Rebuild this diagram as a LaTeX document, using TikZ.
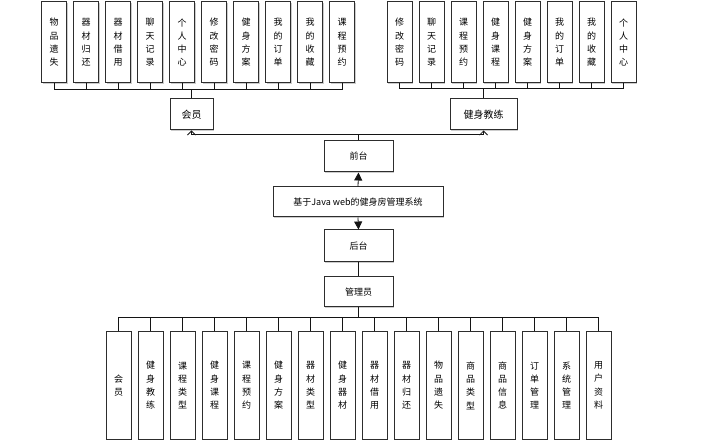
\documentclass[tikz,border=0pt]{standalone}
\usepackage{fontspec}
\newfontfamily\cjk{Noto Sans CJK SC}
\usetikzlibrary{arrows.meta,shadows}
\definecolor{boxdraw}{RGB}{45,45,45}
\definecolor{linkdraw}{RGB}{20,20,20}
\colorlet{boxshadow}{black!40}

\begin{document}
\begin{tikzpicture}[x=1pt,y=-1pt,every node/.style={font=\cjk\fontsize{9}{13.3}\selectfont},
  vbox/.style={draw=boxdraw,fill=white,line width=1pt,inner sep=0pt,minimum width=25pt,align=center,
    drop shadow={shadow xshift=1pt,shadow yshift=-1pt,fill=boxshadow,opacity=.5}},
  mbox/.style={draw=boxdraw,fill=white,line width=1pt,inner sep=0pt,minimum height=31pt,
    drop shadow={shadow xshift=1pt,shadow yshift=-1pt,fill=boxshadow,opacity=.5}},
  link/.style={draw=linkdraw,line width=.8pt}]
  \useasboundingbox (0,0) rectangle (725,443);
  % middle column
  \node[mbox,minimum width=43pt,font=\cjk\fontsize{10}{12}\selectfont] (hy) at (191.5,114.5) {会员};
  \node[mbox,minimum width=67pt,font=\cjk\fontsize{10}{12}\selectfont] (jl) at (483.5,114.5) {健身教练};
  \node[mbox,minimum width=69pt] (qt) at (358.5,156.5) {前台};
  \node[mbox,minimum width=170pt,minimum height=30pt] (sys) at (358,202) {基于Java web的健身房管理系统};
  \node[mbox,minimum width=69pt,minimum height=32pt] (ht) at (358.5,246) {后台};
  \node[mbox,minimum width=69pt,minimum height=30pt] (gly) at (358.5,292) {管理员};
  \draw[link,-{Triangle[length=8pt,width=8pt]}] (sys.north) -- (qt.south);
  \draw[link,-{Triangle[length=8pt,width=8pt]}] (sys.south) -- (ht.north);
  \draw[link] (ht.south) -- (gly.north);
  \draw[link,-{Straight Barb[length=4pt,width=8pt]}] (qt.north) -- ++(0,-6) -| (hy.south);
  \draw[link,-{Straight Barb[length=4pt,width=8pt]}] (qt.north) -- ++(0,-6) -| (jl.south);
  % member functions
  \foreach \t [count=\i from 0] in {{物\\品\\遗\\失},{器\\材\\归\\还},{器\\材\\借\\用},{聊\\天\\记\\录},{个\\人\\中\\心},
      {修\\改\\密\\码},{健\\身\\方\\案},{我\\的\\订\\单},{我\\的\\收\\藏},{课\\程\\预\\约}}{
    \node[vbox,minimum height=81pt] (m\i) at (54+32*\i,42.5) {\t};
    \draw[link] (m\i.south) -- ++(0,6) -| (hy.north);
  }
  % coach functions
  \foreach \t [count=\i from 0] in {{修\\改\\密\\码},{聊\\天\\记\\录},{课\\程\\预\\约},{健\\身\\课\\程},
      {健\\身\\方\\案},{我\\的\\订\\单},{我\\的\\收\\藏},{个\\人\\中\\心}}{
    \node[vbox,minimum height=81pt] (c\i) at (399.5+32*\i,42.5) {\t};
    \draw[link] (c\i.south) -- ++(0,5) -| (jl.north);
  }
  % admin functions
  \foreach \t [count=\i from 0] in {{会\\员},{健\\身\\教\\练},{课\\程\\类\\型},{健\\身\\课\\程},{课\\程\\预\\约},
      {健\\身\\方\\案},{器\\材\\类\\型},{健\\身\\器\\材},{器\\材\\借\\用},{器\\材\\归\\还},{物\\品\\遗\\失},
      {商\\品\\类\\型},{商\\品\\信\\息},{订\\单\\管\\理},{系\\统\\管\\理},{用\\户\\资\\料}}{
    \node[vbox,minimum height=107pt] (a\i) at (118.5+32*\i,385.5) {\t};
    \draw[link] (a\i.north) -- ++(0,-14) -| (gly.south);
  }
\end{tikzpicture}
\end{document}
